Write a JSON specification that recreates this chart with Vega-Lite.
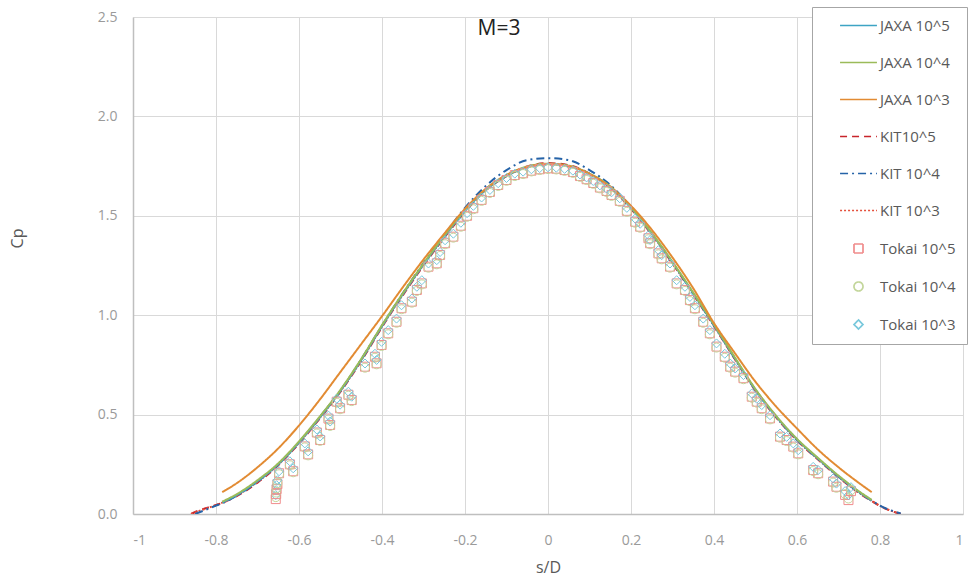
{
  "$schema": "https://vega.github.io/schema/vega-lite/v6.json",
  "width": 830,
  "height": 497,
  "autosize": {"type": "none"},
  "padding": {"left": 133, "top": 17, "right": 14, "bottom": 65},
  "title": {"text": "M=3", "fontSize": 21, "font": "Open Sans", "fontWeight": "normal", "color": "#222222", "anchor": "middle", "dx": -49, "offset": -43, "baseline": "middle", "frame": "group"},
  "config": {
    "view": {"stroke": null},
    "font": "Open Sans",
    "axis": {"labelFont": "Open Sans", "labelFontSize": 14, "labelColor": "#9A9A9A", "titleFont": "Open Sans", "titleFontSize": 16, "titleFontWeight": "normal", "titleColor": "#595959", "gridColor": "#D9D9D9", "gridWidth": 1, "domainColor": "#BFBFBF", "domainWidth": 1.5, "ticks": false},
    "legend": {"orient": "none", "legendX": 679, "legendY": -10, "padding": 11, "rowPadding": 21, "symbolSize": 81, "symbolOffset": 28, "labelOffset": 14, "labelFont": "Open Sans", "labelFontSize": 15, "labelColor": "#595959", "strokeColor": "#A6A6A6", "fillColor": "white", "symbolFillColor": "transparent", "symbolStrokeWidth": 1.7, "labelLimit": 0}
  },
  "datasets": {
    "lines": [
      {"s": -0.86, "KIT10^5": 0.0, "KIT 10^3": 0.0},
      {"s": -0.85, "KIT10^5": 0.01, "KIT 10^4": 0.0, "KIT 10^3": 0.008},
      {"s": -0.8, "KIT10^5": 0.045, "KIT 10^4": 0.042, "KIT 10^3": 0.045},
      {"s": -0.785, "JAXA 10^5": 0.058, "JAXA 10^4": 0.062, "JAXA 10^3": 0.11, "KIT10^5": 0.056, "KIT 10^4": 0.054, "KIT 10^3": 0.057},
      {"s": -0.75, "JAXA 10^5": 0.095, "JAXA 10^4": 0.1, "JAXA 10^3": 0.155, "KIT10^5": 0.09, "KIT 10^4": 0.092, "KIT 10^3": 0.093},
      {"s": -0.7, "JAXA 10^5": 0.165, "JAXA 10^4": 0.17, "JAXA 10^3": 0.235, "KIT10^5": 0.158, "KIT 10^4": 0.163, "KIT 10^3": 0.162},
      {"s": -0.65, "JAXA 10^5": 0.25, "JAXA 10^4": 0.255, "JAXA 10^3": 0.33, "KIT10^5": 0.245, "KIT 10^4": 0.25, "KIT 10^3": 0.248},
      {"s": -0.6, "JAXA 10^5": 0.36, "JAXA 10^4": 0.365, "JAXA 10^3": 0.445, "KIT10^5": 0.355, "KIT 10^4": 0.36, "KIT 10^3": 0.358},
      {"s": -0.55, "JAXA 10^5": 0.485, "JAXA 10^4": 0.49, "JAXA 10^3": 0.575, "KIT10^5": 0.48, "KIT 10^4": 0.487, "KIT 10^3": 0.483},
      {"s": -0.5, "JAXA 10^5": 0.62, "JAXA 10^4": 0.625, "JAXA 10^3": 0.715, "KIT10^5": 0.615, "KIT 10^4": 0.622, "KIT 10^3": 0.618},
      {"s": -0.45, "JAXA 10^5": 0.775, "JAXA 10^4": 0.78, "JAXA 10^3": 0.855, "KIT10^5": 0.77, "KIT 10^4": 0.778, "KIT 10^3": 0.773},
      {"s": -0.4, "JAXA 10^5": 0.945, "JAXA 10^4": 0.95, "JAXA 10^3": 0.995, "KIT10^5": 0.94, "KIT 10^4": 0.948, "KIT 10^3": 0.943},
      {"s": -0.35, "JAXA 10^5": 1.105, "JAXA 10^4": 1.11, "JAXA 10^3": 1.14, "KIT10^5": 1.1, "KIT 10^4": 1.11, "KIT 10^3": 1.103},
      {"s": -0.3, "JAXA 10^5": 1.255, "JAXA 10^4": 1.26, "JAXA 10^3": 1.28, "KIT10^5": 1.25, "KIT 10^4": 1.262, "KIT 10^3": 1.253},
      {"s": -0.25, "JAXA 10^5": 1.395, "JAXA 10^4": 1.4, "JAXA 10^3": 1.41, "KIT10^5": 1.39, "KIT 10^4": 1.405, "KIT 10^3": 1.393},
      {"s": -0.2, "JAXA 10^5": 1.525, "JAXA 10^4": 1.53, "JAXA 10^3": 1.535, "KIT10^5": 1.52, "KIT 10^4": 1.54, "KIT 10^3": 1.523},
      {"s": -0.15, "JAXA 10^5": 1.63, "JAXA 10^4": 1.635, "JAXA 10^3": 1.635, "KIT10^5": 1.628, "KIT 10^4": 1.65, "KIT 10^3": 1.63},
      {"s": -0.1, "JAXA 10^5": 1.7, "JAXA 10^4": 1.705, "JAXA 10^3": 1.705, "KIT10^5": 1.7, "KIT 10^4": 1.73, "KIT 10^3": 1.7},
      {"s": -0.05, "JAXA 10^5": 1.745, "JAXA 10^4": 1.748, "JAXA 10^3": 1.745, "KIT10^5": 1.748, "KIT 10^4": 1.78, "KIT 10^3": 1.745},
      {"s": 0.0, "JAXA 10^5": 1.76, "JAXA 10^4": 1.762, "JAXA 10^3": 1.76, "KIT10^5": 1.765, "KIT 10^4": 1.79, "KIT 10^3": 1.76},
      {"s": 0.05, "JAXA 10^5": 1.75, "JAXA 10^4": 1.752, "JAXA 10^3": 1.75, "KIT10^5": 1.755, "KIT 10^4": 1.78, "KIT 10^3": 1.75},
      {"s": 0.1, "JAXA 10^5": 1.71, "JAXA 10^4": 1.712, "JAXA 10^3": 1.71, "KIT10^5": 1.712, "KIT 10^4": 1.73, "KIT 10^3": 1.71},
      {"s": 0.15, "JAXA 10^5": 1.645, "JAXA 10^4": 1.648, "JAXA 10^3": 1.645, "KIT10^5": 1.642, "KIT 10^4": 1.655, "KIT 10^3": 1.643},
      {"s": 0.2, "JAXA 10^5": 1.54, "JAXA 10^4": 1.543, "JAXA 10^3": 1.55, "KIT10^5": 1.535, "KIT 10^4": 1.545, "KIT 10^3": 1.538},
      {"s": 0.25, "JAXA 10^5": 1.41, "JAXA 10^4": 1.413, "JAXA 10^3": 1.43, "KIT10^5": 1.405, "KIT 10^4": 1.412, "KIT 10^3": 1.408},
      {"s": 0.3, "JAXA 10^5": 1.265, "JAXA 10^4": 1.268, "JAXA 10^3": 1.29, "KIT10^5": 1.26, "KIT 10^4": 1.265, "KIT 10^3": 1.262},
      {"s": 0.35, "JAXA 10^5": 1.11, "JAXA 10^4": 1.113, "JAXA 10^3": 1.135, "KIT10^5": 1.105, "KIT 10^4": 1.108, "KIT 10^3": 1.107},
      {"s": 0.4, "JAXA 10^5": 0.95, "JAXA 10^4": 0.953, "JAXA 10^3": 0.96, "KIT10^5": 0.945, "KIT 10^4": 0.948, "KIT 10^3": 0.947},
      {"s": 0.45, "JAXA 10^5": 0.785, "JAXA 10^4": 0.788, "JAXA 10^3": 0.81, "KIT10^5": 0.78, "KIT 10^4": 0.783, "KIT 10^3": 0.782},
      {"s": 0.5, "JAXA 10^5": 0.625, "JAXA 10^4": 0.628, "JAXA 10^3": 0.665, "KIT10^5": 0.62, "KIT 10^4": 0.623, "KIT 10^3": 0.622},
      {"s": 0.55, "JAXA 10^5": 0.49, "JAXA 10^4": 0.493, "JAXA 10^3": 0.54, "KIT10^5": 0.485, "KIT 10^4": 0.488, "KIT 10^3": 0.487},
      {"s": 0.6, "JAXA 10^5": 0.375, "JAXA 10^4": 0.378, "JAXA 10^3": 0.43, "KIT10^5": 0.37, "KIT 10^4": 0.373, "KIT 10^3": 0.372},
      {"s": 0.65, "JAXA 10^5": 0.28, "JAXA 10^4": 0.283, "JAXA 10^3": 0.325, "KIT10^5": 0.275, "KIT 10^4": 0.278, "KIT 10^3": 0.277},
      {"s": 0.7, "JAXA 10^5": 0.19, "JAXA 10^4": 0.193, "JAXA 10^3": 0.235, "KIT10^5": 0.185, "KIT 10^4": 0.188, "KIT 10^3": 0.187},
      {"s": 0.75, "JAXA 10^5": 0.11, "JAXA 10^4": 0.113, "JAXA 10^3": 0.155, "KIT10^5": 0.105, "KIT 10^4": 0.108, "KIT 10^3": 0.107},
      {"s": 0.78, "JAXA 10^5": 0.068, "JAXA 10^4": 0.071, "JAXA 10^3": 0.11, "KIT10^5": 0.065, "KIT 10^4": 0.068, "KIT 10^3": 0.066},
      {"s": 0.8, "KIT10^5": 0.04, "KIT 10^4": 0.042, "KIT 10^3": 0.041},
      {"s": 0.85, "KIT10^5": 0.0, "KIT 10^4": 0.003, "KIT 10^3": 0.0}
    ],
    "tokai": [
      {"s": -0.656, "Tokai 10^5": 0.075, "Tokai 10^4": 0.085, "Tokai 10^3": 0.095},
      {"s": -0.655, "Tokai 10^5": 0.1, "Tokai 10^4": 0.108, "Tokai 10^3": 0.12},
      {"s": -0.654, "Tokai 10^5": 0.125, "Tokai 10^4": 0.13, "Tokai 10^3": 0.145},
      {"s": -0.652, "Tokai 10^5": 0.15, "Tokai 10^4": 0.155, "Tokai 10^3": 0.17},
      {"s": -0.648, "Tokai 10^5": 0.205, "Tokai 10^4": 0.2, "Tokai 10^3": 0.215},
      {"s": -0.622, "Tokai 10^5": 0.25, "Tokai 10^4": 0.245, "Tokai 10^3": 0.265},
      {"s": -0.614, "Tokai 10^5": 0.215, "Tokai 10^4": 0.21, "Tokai 10^3": 0.23},
      {"s": -0.586, "Tokai 10^5": 0.34, "Tokai 10^4": 0.335, "Tokai 10^3": 0.355},
      {"s": -0.578, "Tokai 10^5": 0.3, "Tokai 10^4": 0.295, "Tokai 10^3": 0.315},
      {"s": -0.557, "Tokai 10^5": 0.41, "Tokai 10^4": 0.405, "Tokai 10^3": 0.425},
      {"s": -0.549, "Tokai 10^5": 0.372, "Tokai 10^4": 0.368, "Tokai 10^3": 0.39},
      {"s": -0.529, "Tokai 10^5": 0.48, "Tokai 10^4": 0.475, "Tokai 10^3": 0.495},
      {"s": -0.525, "Tokai 10^5": 0.448, "Tokai 10^4": 0.443, "Tokai 10^3": 0.465},
      {"s": -0.509, "Tokai 10^5": 0.565, "Tokai 10^4": 0.56, "Tokai 10^3": 0.58},
      {"s": -0.501, "Tokai 10^5": 0.532, "Tokai 10^4": 0.527, "Tokai 10^3": 0.55},
      {"s": -0.481, "Tokai 10^5": 0.6, "Tokai 10^4": 0.595, "Tokai 10^3": 0.615},
      {"s": -0.473, "Tokai 10^5": 0.573, "Tokai 10^4": 0.568, "Tokai 10^3": 0.59},
      {"s": -0.441, "Tokai 10^5": 0.741, "Tokai 10^4": 0.736, "Tokai 10^3": 0.757},
      {"s": -0.417, "Tokai 10^5": 0.791, "Tokai 10^4": 0.786, "Tokai 10^3": 0.806},
      {"s": -0.413, "Tokai 10^5": 0.758, "Tokai 10^4": 0.753, "Tokai 10^3": 0.775},
      {"s": -0.401, "Tokai 10^5": 0.85, "Tokai 10^4": 0.845, "Tokai 10^3": 0.866},
      {"s": -0.385, "Tokai 10^5": 0.909, "Tokai 10^4": 0.904, "Tokai 10^3": 0.925},
      {"s": -0.365, "Tokai 10^5": 0.967, "Tokai 10^4": 0.962, "Tokai 10^3": 0.983},
      {"s": -0.353, "Tokai 10^5": 1.035, "Tokai 10^4": 1.03, "Tokai 10^3": 1.05},
      {"s": -0.328, "Tokai 10^5": 1.068, "Tokai 10^4": 1.063, "Tokai 10^3": 1.084},
      {"s": -0.316, "Tokai 10^5": 1.127, "Tokai 10^4": 1.122, "Tokai 10^3": 1.143},
      {"s": -0.304, "Tokai 10^5": 1.16, "Tokai 10^4": 1.155, "Tokai 10^3": 1.176},
      {"s": -0.288, "Tokai 10^5": 1.244, "Tokai 10^4": 1.239, "Tokai 10^3": 1.26},
      {"s": -0.268, "Tokai 10^5": 1.261, "Tokai 10^4": 1.256, "Tokai 10^3": 1.277},
      {"s": -0.26, "Tokai 10^5": 1.303, "Tokai 10^4": 1.298, "Tokai 10^3": 1.318},
      {"s": -0.248, "Tokai 10^5": 1.362, "Tokai 10^4": 1.357, "Tokai 10^3": 1.377},
      {"s": -0.228, "Tokai 10^5": 1.395, "Tokai 10^4": 1.39, "Tokai 10^3": 1.41},
      {"s": -0.21, "Tokai 10^5": 1.45, "Tokai 10^4": 1.445, "Tokai 10^3": 1.465},
      {"s": -0.195, "Tokai 10^5": 1.5, "Tokai 10^4": 1.495, "Tokai 10^3": 1.513},
      {"s": -0.18, "Tokai 10^5": 1.538, "Tokai 10^4": 1.533, "Tokai 10^3": 1.55},
      {"s": -0.16, "Tokai 10^5": 1.58, "Tokai 10^4": 1.575, "Tokai 10^3": 1.592},
      {"s": -0.14, "Tokai 10^5": 1.62, "Tokai 10^4": 1.615, "Tokai 10^3": 1.63},
      {"s": -0.12, "Tokai 10^5": 1.655, "Tokai 10^4": 1.65, "Tokai 10^3": 1.664},
      {"s": -0.1, "Tokai 10^5": 1.68, "Tokai 10^4": 1.676, "Tokai 10^3": 1.69},
      {"s": -0.08, "Tokai 10^5": 1.705, "Tokai 10^4": 1.7, "Tokai 10^3": 1.712},
      {"s": -0.06, "Tokai 10^5": 1.714, "Tokai 10^4": 1.71, "Tokai 10^3": 1.722},
      {"s": -0.04, "Tokai 10^5": 1.727, "Tokai 10^4": 1.723, "Tokai 10^3": 1.734},
      {"s": -0.02, "Tokai 10^5": 1.734, "Tokai 10^4": 1.73, "Tokai 10^3": 1.74},
      {"s": 0.0, "Tokai 10^5": 1.739, "Tokai 10^4": 1.735, "Tokai 10^3": 1.744},
      {"s": 0.02, "Tokai 10^5": 1.737, "Tokai 10^4": 1.733, "Tokai 10^3": 1.742},
      {"s": 0.04, "Tokai 10^5": 1.73, "Tokai 10^4": 1.726, "Tokai 10^3": 1.736},
      {"s": 0.06, "Tokai 10^5": 1.72, "Tokai 10^4": 1.716, "Tokai 10^3": 1.727},
      {"s": 0.077, "Tokai 10^5": 1.7, "Tokai 10^4": 1.696, "Tokai 10^3": 1.708},
      {"s": 0.093, "Tokai 10^5": 1.684, "Tokai 10^4": 1.68, "Tokai 10^3": 1.693},
      {"s": 0.109, "Tokai 10^5": 1.665, "Tokai 10^4": 1.661, "Tokai 10^3": 1.675},
      {"s": 0.125, "Tokai 10^5": 1.642, "Tokai 10^4": 1.638, "Tokai 10^3": 1.653},
      {"s": 0.141, "Tokai 10^5": 1.625, "Tokai 10^4": 1.62, "Tokai 10^3": 1.637},
      {"s": 0.153, "Tokai 10^5": 1.605, "Tokai 10^4": 1.6, "Tokai 10^3": 1.618},
      {"s": 0.173, "Tokai 10^5": 1.575, "Tokai 10^4": 1.57, "Tokai 10^3": 1.588},
      {"s": 0.19, "Tokai 10^5": 1.525, "Tokai 10^4": 1.52, "Tokai 10^3": 1.54},
      {"s": 0.21, "Tokai 10^5": 1.47, "Tokai 10^4": 1.465, "Tokai 10^3": 1.486},
      {"s": 0.222, "Tokai 10^5": 1.445, "Tokai 10^4": 1.44, "Tokai 10^3": 1.46},
      {"s": 0.242, "Tokai 10^5": 1.387, "Tokai 10^4": 1.382, "Tokai 10^3": 1.402},
      {"s": 0.246, "Tokai 10^5": 1.362, "Tokai 10^4": 1.357, "Tokai 10^3": 1.378},
      {"s": 0.266, "Tokai 10^5": 1.311, "Tokai 10^4": 1.306, "Tokai 10^3": 1.327},
      {"s": 0.274, "Tokai 10^5": 1.286, "Tokai 10^4": 1.281, "Tokai 10^3": 1.302},
      {"s": 0.294, "Tokai 10^5": 1.244, "Tokai 10^4": 1.239, "Tokai 10^3": 1.26},
      {"s": 0.31, "Tokai 10^5": 1.16, "Tokai 10^4": 1.155, "Tokai 10^3": 1.176},
      {"s": 0.33, "Tokai 10^5": 1.127, "Tokai 10^4": 1.122, "Tokai 10^3": 1.143},
      {"s": 0.342, "Tokai 10^5": 1.076, "Tokai 10^4": 1.071, "Tokai 10^3": 1.092},
      {"s": 0.354, "Tokai 10^5": 1.035, "Tokai 10^4": 1.03, "Tokai 10^3": 1.05},
      {"s": 0.374, "Tokai 10^5": 0.967, "Tokai 10^4": 0.962, "Tokai 10^3": 0.983},
      {"s": 0.39, "Tokai 10^5": 0.909, "Tokai 10^4": 0.904, "Tokai 10^3": 0.925},
      {"s": 0.406, "Tokai 10^5": 0.842, "Tokai 10^4": 0.837, "Tokai 10^3": 0.858},
      {"s": 0.426, "Tokai 10^5": 0.791, "Tokai 10^4": 0.786, "Tokai 10^3": 0.806},
      {"s": 0.439, "Tokai 10^5": 0.741, "Tokai 10^4": 0.736, "Tokai 10^3": 0.757},
      {"s": 0.451, "Tokai 10^5": 0.716, "Tokai 10^4": 0.711, "Tokai 10^3": 0.732},
      {"s": 0.471, "Tokai 10^5": 0.683, "Tokai 10^4": 0.678, "Tokai 10^3": 0.699},
      {"s": 0.491, "Tokai 10^5": 0.59, "Tokai 10^4": 0.585, "Tokai 10^3": 0.606},
      {"s": 0.503, "Tokai 10^5": 0.565, "Tokai 10^4": 0.56, "Tokai 10^3": 0.58},
      {"s": 0.515, "Tokai 10^5": 0.532, "Tokai 10^4": 0.527, "Tokai 10^3": 0.548},
      {"s": 0.535, "Tokai 10^5": 0.481, "Tokai 10^4": 0.476, "Tokai 10^3": 0.497},
      {"s": 0.559, "Tokai 10^5": 0.389, "Tokai 10^4": 0.384, "Tokai 10^3": 0.405},
      {"s": 0.575, "Tokai 10^5": 0.372, "Tokai 10^4": 0.367, "Tokai 10^3": 0.388},
      {"s": 0.591, "Tokai 10^5": 0.339, "Tokai 10^4": 0.334, "Tokai 10^3": 0.355},
      {"s": 0.603, "Tokai 10^5": 0.305, "Tokai 10^4": 0.3, "Tokai 10^3": 0.321},
      {"s": 0.639, "Tokai 10^5": 0.221, "Tokai 10^4": 0.216, "Tokai 10^3": 0.237},
      {"s": 0.651, "Tokai 10^5": 0.205, "Tokai 10^4": 0.2, "Tokai 10^3": 0.221},
      {"s": 0.687, "Tokai 10^5": 0.163, "Tokai 10^4": 0.158, "Tokai 10^3": 0.179},
      {"s": 0.695, "Tokai 10^5": 0.137, "Tokai 10^4": 0.132, "Tokai 10^3": 0.153},
      {"s": 0.716, "Tokai 10^5": 0.096, "Tokai 10^4": 0.1, "Tokai 10^3": 0.115},
      {"s": 0.724, "Tokai 10^5": 0.07, "Tokai 10^4": 0.078, "Tokai 10^3": 0.095},
      {"s": 0.73, "Tokai 10^5": 0.115, "Tokai 10^4": 0.12, "Tokai 10^3": 0.135}
    ]
  },
  "encoding": {
    "x": {"field": "s", "type": "quantitative", "scale": {"domain": [-1, 1], "nice": false},
      "axis": {"values": [-1, -0.8, -0.6, -0.4, -0.2, 0, 0.2, 0.4, 0.6, 0.8, 1], "labelExpr": "replace(format(datum.value, '~g'), '\u2212', '-')", "title": "s/D", "labelPadding": 19, "titleX": 415, "titleY": 53, "titleBaseline": "middle"}},
    "y": {"field": "cp", "type": "quantitative", "scale": {"domain": [0, 2.5], "nice": false},
      "axis": {"values": [0, 0.5, 1, 1.5, 2, 2.5], "format": ".1f", "title": "Cp", "labelPadding": 16, "titleX": -116, "titleY": 221, "titleBaseline": "middle"}},
    "color": {"field": "series", "type": "nominal",
      "scale": {"domain": ["JAXA 10^5", "JAXA 10^4", "JAXA 10^3", "KIT10^5", "KIT 10^4", "KIT 10^3", "Tokai 10^5", "Tokai 10^4", "Tokai 10^3"],
        "range": ["#3DA4C4", "#9BBB59", "#E28B33", "#C8242B", "#2563A8", "#E4503C", "#F08C8C", "#C3D69B", "#78C8DC"]},
      "legend": {"title": null, "labelExpr": "datum.label + '\u00a0\u00a0\u00a0'"}}
  },
  "layer": [
    {
      "data": {"name": "lines"},
      "transform": [
        {"fold": ["JAXA 10^5", "JAXA 10^4", "JAXA 10^3", "KIT10^5", "KIT 10^4", "KIT 10^3"], "as": ["series", "cp"]},
        {"filter": "isValid(datum.cp)"}
      ],
      "mark": {"type": "line", "strokeWidth": 2, "interpolate": "monotone", "clip": true},
      "encoding": {
        "strokeDash": {"field": "series", "type": "nominal",
          "scale": {"domain": ["JAXA 10^5", "JAXA 10^4", "JAXA 10^3", "KIT10^5", "KIT 10^4", "KIT 10^3", "Tokai 10^5", "Tokai 10^4", "Tokai 10^3"],
            "range": [[1, 0], [1, 0], [1, 0], [7, 5], [8, 4, 2, 4], [2, 2], [1, 0], [1, 0], [1, 0]]},
          "legend": {"title": null, "labelExpr": "datum.label + '\u00a0\u00a0\u00a0'"}}
      }
    },
    {
      "data": {"name": "tokai"},
      "transform": [
        {"fold": ["Tokai 10^5", "Tokai 10^4", "Tokai 10^3"], "as": ["series", "cp"]}
      ],
      "mark": {"type": "point", "filled": false, "size": 81, "strokeWidth": 1, "opacity": 1},
      "encoding": {
        "shape": {"field": "series", "type": "nominal",
          "scale": {"domain": ["JAXA 10^5", "JAXA 10^4", "JAXA 10^3", "KIT10^5", "KIT 10^4", "KIT 10^3", "Tokai 10^5", "Tokai 10^4", "Tokai 10^3"],
            "range": ["M-4.1,0H4.1", "M-4.1,0H4.1", "M-4.1,0H4.1", "M-4.1,0H4.1", "M-4.1,0H4.1", "M-4.1,0H4.1", "square", "circle", "diamond"]},
          "legend": {"title": null, "labelExpr": "datum.label + '\u00a0\u00a0\u00a0'"}}
      }
    }
  ]
}
